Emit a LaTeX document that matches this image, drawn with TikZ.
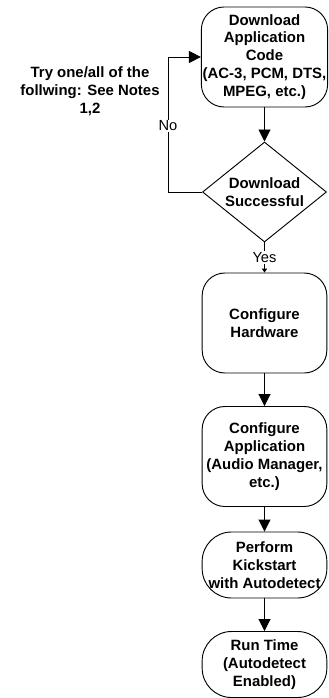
\documentclass[tikz,border=0pt]{standalone}
\usepackage{fontspec}
\setmainfont{Liberation Sans}
\usetikzlibrary{shapes.geometric,arrows.meta}

\tikzset{
  txt/.style={font=\fontsize{11.2}{13.4}\selectfont\bfseries, align=center},
  stepbox/.style={txt, draw, line width=0.7pt, rounded corners=17pt, minimum width=93.5pt, minimum height=75pt, inner sep=1pt},
  smallbox/.style={stepbox, minimum height=49.5pt, rounded corners=22pt},
  decide/.style={txt, draw, diamond, line width=0.7pt, aspect=1.24, minimum width=93pt, minimum height=75pt, inner sep=0pt},
  lbl/.style={fill=white, inner sep=1pt, font=\fontsize{11}{13}\selectfont},
  flow/.style={-{Triangle[length=9pt,width=9pt]}, line width=0.7pt},
}

\begin{document}
\begin{tikzpicture}[x=0.75pt,y=-0.75pt]
            \useasboundingbox (0,0) rectangle (328,698);
            % Draw steps
            \node[stepbox] (dl) at (264.5,57) {Download\\Application\\Code\\(AC-3, PCM, DTS,\\MPEG, etc.)};
            \node[decide] (ok) at (264.5,192) {Download\\Successful};
            \node[stepbox] (hw) at (264.5,323) {Configure\\Hardware};
            \node[stepbox] (app) at (264.5,456.5) {Configure\\Application\\(Audio Manager,\\etc.)};
            \node[smallbox] (kick) at (264.5,565) {Perform\\Kickstart\\with Autodetect};
            \node[smallbox] (run) at (264.5,664.5) {Run Time\\(Autodetect\\Enabled)};
            \node[txt] (notes) at (90,91) {Try one/all of the\\follwing: See Notes\\1,2};
            % Draw arrows
            \coordinate (bend) at (168,57);
            \draw[flow] (ok.west) -| (bend) -- (dl.west);
            \node[lbl] (no) at (168,126) {No};
            \draw[flow] (dl) -- (ok);
            \draw[-{Triangle[length=3pt,width=4pt]}, line width=0.7pt] (ok.south) -- node[lbl] (yes) {Yes} (hw.north);
            \draw[flow] (hw) -- (app);
            \draw[flow] (app) -- (kick);
            \draw[flow] (kick) -- (run);
        \end{tikzpicture}
\end{document}
